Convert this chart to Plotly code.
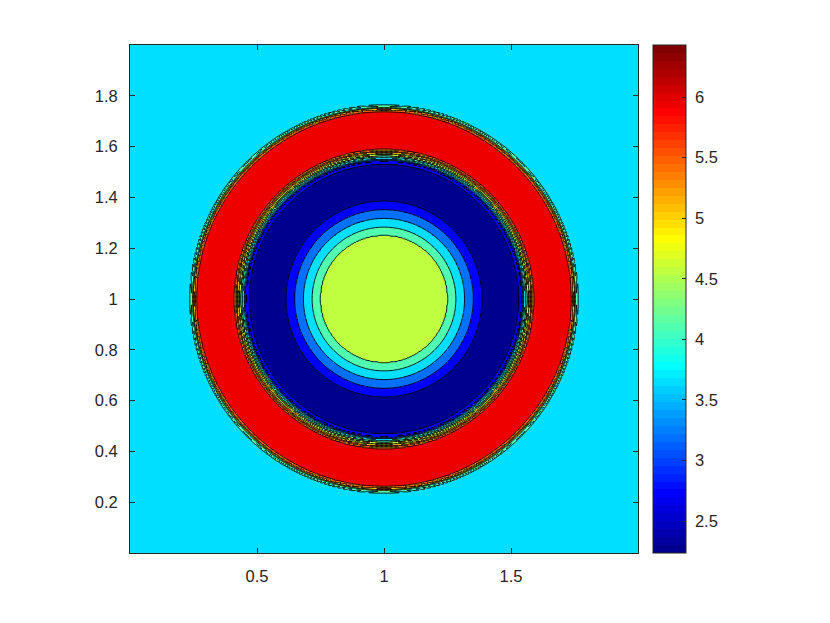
import numpy as np
import plotly.graph_objects as go

# ---- data ----
# radial profile of the field about the centre (1, 1)
r_profile = [0.0, 0.247, 0.249, 0.386, 0.40, 0.525, 0.535, 0.542, 0.548, 0.555, 0.560,
             0.566, 0.572, 0.578, 0.584, 0.590, 0.598, 0.735, 0.739, 0.743, 0.747,
             0.751, 0.755, 0.759, 0.763, 0.768, 0.78, 1.5]
z_profile = [4.75, 4.75, 4.56, 2.70, 2.45, 2.45, 2.95, 2.60, 3.40, 4.30, 3.90,
             5.20, 4.80, 5.70, 5.35, 6.05, 6.20, 6.20, 5.80, 5.40, 5.70,
             4.90, 4.35, 4.00, 4.25, 3.85, 3.80, 3.80]
center = (1.0, 1.0)
n_grid = 400
x_range = [0.0, 2.0]
y_range = [0.0, 2.0]
cmin, cmax = 2.236, 6.43
n_levels = 10
x_ticks = [0.5, 1, 1.5]
y_ticks = [0.2, 0.4, 0.6, 0.8, 1.0, 1.2, 1.4, 1.6, 1.8]
cbar_ticks = [2.5, 3, 3.5, 4, 4.5, 5, 5.5, 6]

# ---- build the field ----
x = np.linspace(x_range[0] + 0.0025, x_range[1] - 0.0025, n_grid)
y = np.linspace(y_range[0] + 0.0025, y_range[1] - 0.0025, n_grid)
X, Y = np.meshgrid(x, y)
R = np.hypot(X - center[0], Y - center[1])
Z = np.interp(R, r_profile, z_profile)

levels = np.linspace(cmin, cmax, n_levels)
dl = levels[1] - levels[0]
idx = np.clip(np.floor((Z - levels[0]) / dl).astype(int), 0, n_levels - 1)
Zq = levels[idx]

# MATLAB jet(64)
def jet(m=64):
    n = int(np.ceil(m / 4))
    u = np.concatenate([np.arange(1, n + 1) / n, np.ones(n - 1), np.arange(n, 0, -1) / n])
    g = int(np.ceil(n / 2)) - (1 if m % 4 == 1 else 0) + np.arange(1, len(u) + 1)
    r = g + n
    b = g - n
    J = np.zeros((m, 3))
    mask = r <= m
    J[r[mask] - 1, 0] = u[mask]
    mask = g <= m
    J[g[mask] - 1, 1] = u[mask]
    mask = b >= 1
    J[b[mask] - 1, 2] = u[mask]
    return J

J = jet(64)
cs = []
for i, c in enumerate(J):
    col = "rgb(%d,%d,%d)" % tuple(np.round(c * 255).astype(int))
    cs.append([i / 64, col])
    cs.append([(i + 1) / 64, col])

font = dict(family="Liberation Sans, Arial, sans-serif", size=16.5, color="#262626")

fig = go.Figure()
fig.add_trace(go.Heatmap(
    x=x, y=y, z=Zq, zmin=cmin, zmax=cmax, colorscale=cs, zsmooth=False,
    hoverinfo="skip",
    colorbar=dict(
        x=1.0295, xanchor="left", xpad=0, ypad=0, y=0.5, yanchor="middle",
        len=1, lenmode="fraction", thickness=33, thicknessmode="pixels",
        outlinewidth=1, outlinecolor="#262626",
        tickvals=cbar_ticks, ticktext=[(" %g" % v) for v in cbar_ticks],
        ticks="inside", ticklen=4, tickcolor="#262626", tickfont=font,
    ),
))
fig.add_trace(go.Contour(
    x=x, y=y, z=Z, showscale=False, hoverinfo="skip",
    contours=dict(start=levels[1], end=levels[-2] + 1e-6, size=dl, coloring="none"),
    line=dict(color="black", width=0.9),
))

axis_common = dict(
    showgrid=False, zeroline=False, showline=True, linecolor="#262626", linewidth=1,
    mirror="ticks", ticks="inside", ticklen=5, tickcolor="#262626", tickfont=font,
    ticklabelstandoff=8,
)
fig.update_xaxes(range=x_range, tickvals=x_ticks, ticktext=[("%g" % v) for v in x_ticks],
                 **axis_common)
fig.update_yaxes(range=y_range, tickvals=y_ticks, ticktext=[("%g" % v) for v in y_ticks],
                 **axis_common)
fig.update_layout(
    width=830, height=623, autosize=False,
    margin=dict(l=122, r=200, t=37, b=78, pad=0),
    paper_bgcolor="white", plot_bgcolor="white", showlegend=False,
)
fig.write_html("out.html")
